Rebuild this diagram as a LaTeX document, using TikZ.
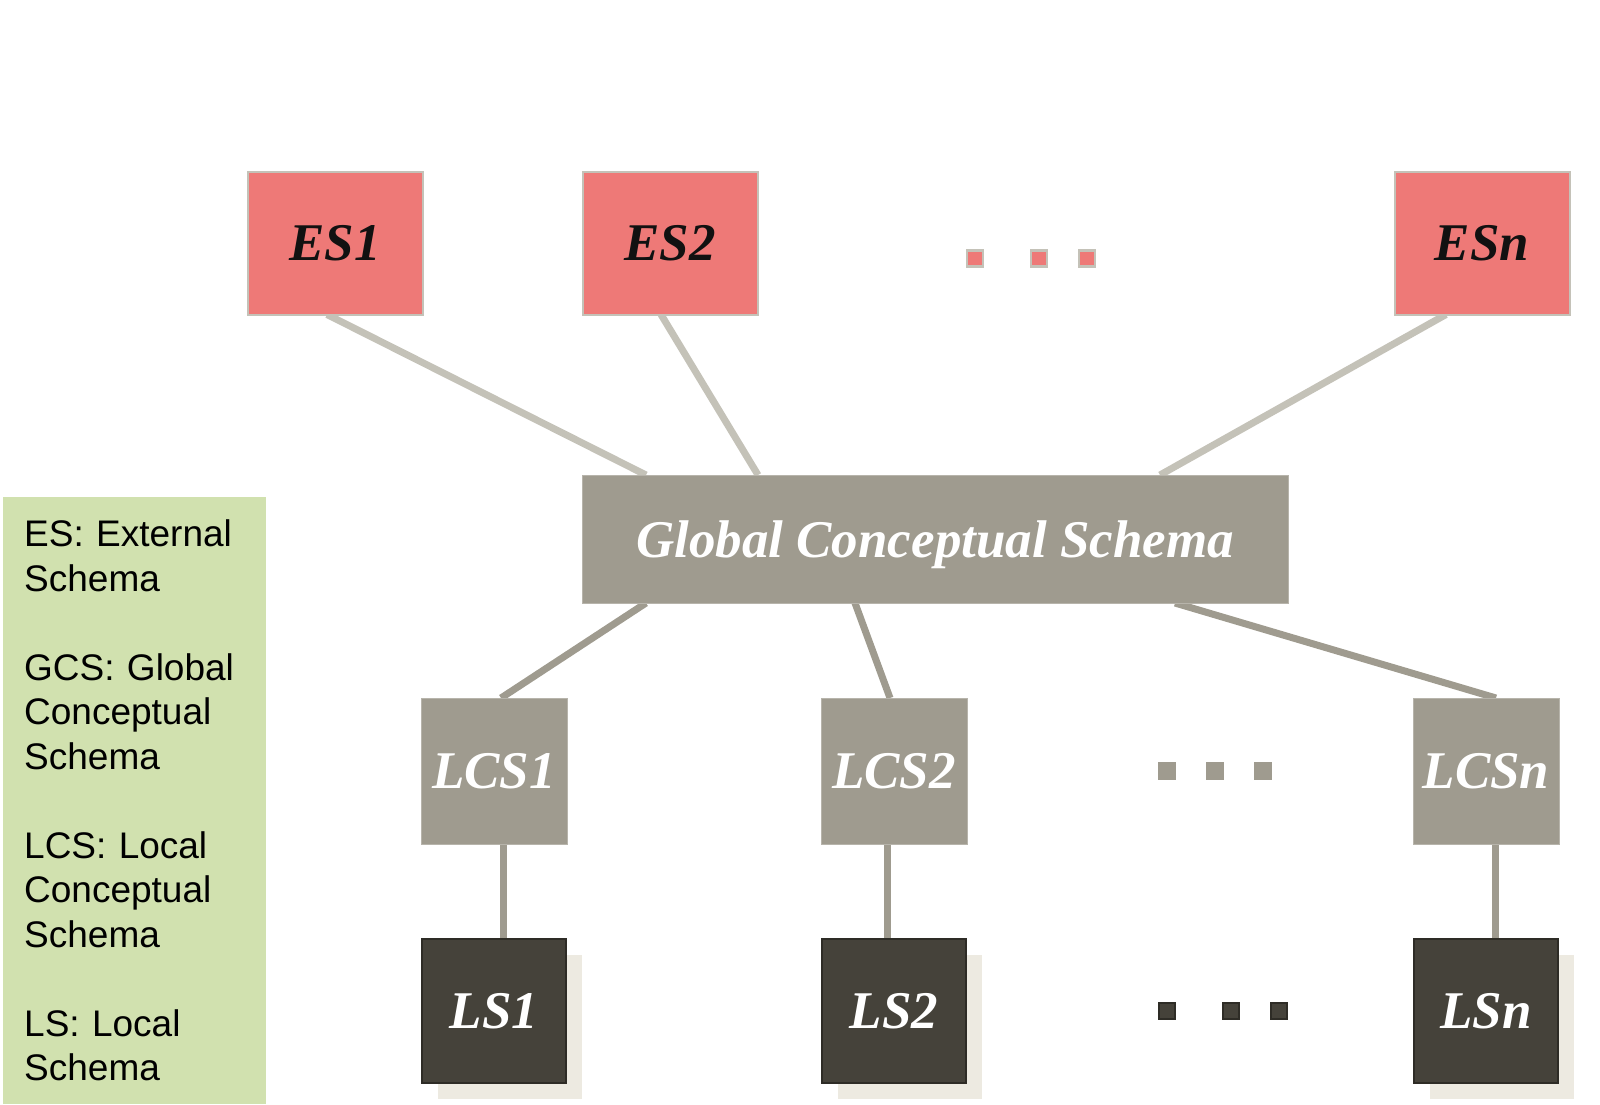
\documentclass[tikz,border=0pt]{standalone}
\usepackage{fontspec}
\setmainfont{Liberation Serif}
\newfontfamily\legendfont{Liberation Sans}
\usetikzlibrary{positioning,backgrounds,shadows}
\definecolor{rose}{HTML}{EE7977}
\definecolor{pebble}{HTML}{C4C2B8}
\definecolor{stone}{HTML}{9F9B8F}
\definecolor{charcoal}{HTML}{45423A}
\definecolor{coal}{HTML}{2E2C26}
\definecolor{sand}{HTML}{EDEAE1}
\definecolor{sage}{HTML}{D1E1AF}
\definecolor{ink}{HTML}{111111}
\tikzset{
  base/.style={font=\bfseries\itshape\fontsize{53}{60}\selectfont,inner sep=0pt,outer sep=0pt,minimum width=146pt,minimum height=146pt},
  extschema/.style={base,fill=rose,draw=pebble,line width=2pt,text=ink,minimum width=175pt,minimum height=143pt},
  globschema/.style={base,fill=stone,draw=stone!75!white,line width=1pt,text=white,minimum width=706pt,minimum height=128pt,
    text height=36pt,text depth=0pt},
  locschema/.style={base,fill=stone,draw=stone!75!white,line width=1pt,text=white},
  storeschema/.style={base,fill=charcoal,draw=coal,line width=2.5pt,text=white,minimum width=144pt,minimum height=144pt,
    drop shadow={shadow xshift=15.6pt,shadow yshift=-15.6pt,fill=sand,opacity=1}},
  legendbox/.style={fill=sage,font=\legendfont\fontsize{37}{44.5}\selectfont,align=left,anchor=north west,
    text width=221pt,inner xsep=21pt,inner ysep=0pt,minimum width=263pt,minimum height=607pt},
  dotbox/.style={inner sep=0pt,outer sep=0pt,minimum size=16pt},
  reddot/.style={dotbox,fill=rose,draw=pebble,line width=2.7pt},
  greydot/.style={dotbox,fill=stone,minimum size=18.5pt},
  blackdot/.style={dotbox,fill=charcoal,draw=coal,line width=2pt,minimum size=16.5pt},
  upline/.style={line width=7pt,draw=pebble},
  downline/.style={line width=7pt,draw=stone}
}

\begin{document}
\begin{tikzpicture}[x=1pt,y=-1pt]
\useasboundingbox (0,0) rectangle (1600,1104);

% external schemas
\node[extschema] (es1) at (335,243) {ES1};
\node[extschema,right=160pt of es1] (es2) {ES2};
\node[extschema] (esn) at (1482,243) {ESn};
\foreach \x/\n in {975/1,1039/2,1087/3}
  \node[reddot] (esdot\n) at (\x,258.5) {};

% global level
\node[globschema] (gcs) at (935,539) {Global Conceptual Schema};

% local conceptual schemas
\node[locschema] (lcs1) at (494,771) {LCS1};
\node[locschema,right=254pt of lcs1] (lcs2) {LCS2};
\node[locschema] (lcsn) at (1486,771) {LCSn};
\foreach \x/\n in {1167/1,1215/2,1263/3}
  \node[greydot] (lcsdot\n) at (\x,771) {};

% local schemas
\node[storeschema,below=95pt of lcs1] (ls1) {LS1};
\node[storeschema,below=95pt of lcs2] (ls2) {LS2};
\node[storeschema,below=95pt of lcsn] (lsn) {LSn};
\foreach \x/\n in {1167/1,1231/2,1279/3}
  \node[blackdot] (lsdot\n) at (\x,1011) {};

% legend
\node[legendbox] (legend) at (3,497) {ES: External\\Schema\\[44.5pt]GCS: Global\\Conceptual\\Schema\\[44.5pt]LCS: Local\\Conceptual\\Schema\\[44.5pt]LS: Local\\Schema};

\begin{scope}[on background layer]
\draw[upline] ([xshift=-8pt]es1.south) -- ([xshift=-289pt]gcs.north);
\draw[upline] ([xshift=-9pt]es2.south) -- ([xshift=-177pt]gcs.north);
\draw[upline] ([xshift=-36pt]esn.south) -- ([xshift=225pt]gcs.north);
\draw[downline] ([xshift=-289pt]gcs.south) -- ([xshift=7pt]lcs1.north);
\draw[downline] ([xshift=-80pt]gcs.south) -- ([xshift=-4pt]lcs2.north);
\draw[downline] ([xshift=240pt]gcs.south) -- ([xshift=10pt]lcsn.north);
\draw[downline] ([xshift=9pt]lcs1.south) -- ([xshift=9pt]ls1.north);
\draw[downline] ([xshift=-7pt]lcs2.south) -- ([xshift=-7pt]ls2.north);
\draw[downline] ([xshift=9pt]lcsn.south) -- ([xshift=9pt]lsn.north);
\end{scope}
\end{tikzpicture}
\end{document}
